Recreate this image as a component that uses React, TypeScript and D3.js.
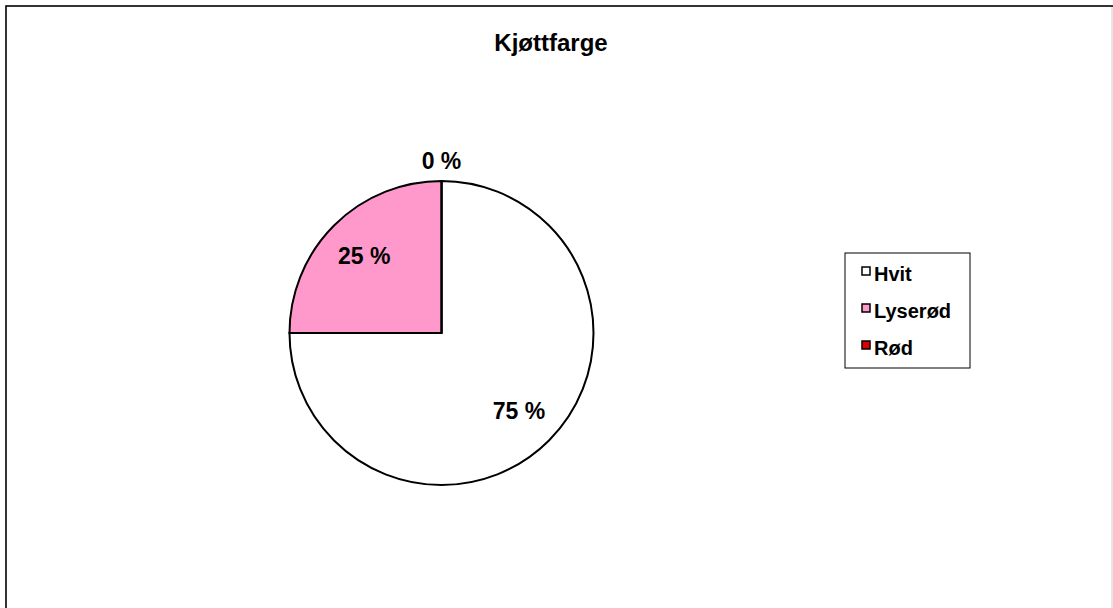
import * as d3 from 'd3';
import React from 'react';

const categories = ['Hvit', 'Lyserød', 'Rød'];
const values = [75, 25, 0];
const colors = ['#ffffff', '#ff99cc', '#dd0000'];
const title = 'Kjøttfarge';

const W = 1113;
const H = 608;
const cx = 441.5;
const cy = 333;
const r = 152;
const font = 'Liberation Sans, Arial, sans-serif';

function App() {
  const pie = d3
    .pie<number>()
    .sort(null)
    .startAngle(0)
    .endAngle(2 * Math.PI);
  const arcs = pie(values);
  const arc = d3.arc<d3.PieArcDatum<number>>().innerRadius(0).outerRadius(r);
  const labelArc = d3
    .arc<d3.PieArcDatum<number>>()
    .innerRadius(r * 0.72)
    .outerRadius(r * 0.72);
  const outerArc = d3
    .arc<d3.PieArcDatum<number>>()
    .innerRadius(r + 20)
    .outerRadius(r + 20);

  const legendX = 845;
  const legendY = 253;
  const rowGap = 37;

  return (
    <svg
      width={W}
      height={H}
      style={{ position: 'absolute', left: 0, top: 0, background: '#fff' }}
    >
      {/* chart frame, right and bottom edges run past the window */}
      <rect x={6} y={6} width={1130} height={640} fill="none" stroke="#000" strokeWidth={1.6} />
      <line x1={1112} x2={1112} y1={7} y2={H} stroke="#ccc" strokeWidth={1} />

      <text
        x={551}
        y={51}
        textAnchor="middle"
        fontFamily={font}
        fontWeight="bold"
        fontSize={24}
        fill="#000"
      >
        {title}
      </text>

      <g transform={'translate(' + cx + ',' + cy + ')'}>
        {arcs.map((a, i) => (
          <path key={i} d={arc(a) || ''} fill={colors[i]} stroke="#000" strokeWidth={2} />
        ))}
        {arcs.map((a, i) => {
          const p = a.value === 0 ? outerArc.centroid(a) : labelArc.centroid(a);
          return (
            <text
              key={'l' + i}
              x={p[0]}
              y={p[1]}
              dy="0.36em"
              textAnchor="middle"
              fontFamily={font}
              fontWeight="bold"
              fontSize={23}
              fill="#000"
            >
              {values[i] + ' %'}
            </text>
          );
        })}
      </g>

      {/* legend */}
      <rect x={legendX} y={legendY} width={125} height={115} fill="#fff" stroke="#000" strokeWidth={1} />
      {categories.map((c, i) => (
        <g key={c} transform={'translate(' + (legendX + 17) + ',' + (legendY + 14 + i * rowGap) + ')'}>
          <rect x={0} y={0} width={8} height={8} fill={colors[i]} stroke="#000" strokeWidth={1.5} />
          <text x={12} y={14} fontFamily={font} fontWeight="bold" fontSize={20} fill="#000">
            {c}
          </text>
        </g>
      ))}
    </svg>
  );
}

export default App;
